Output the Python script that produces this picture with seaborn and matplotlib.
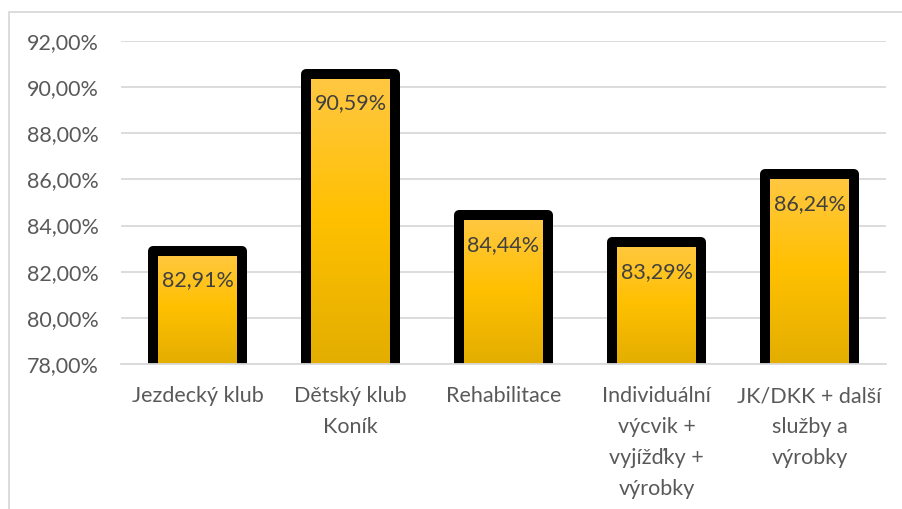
import numpy as np
import pandas as pd
import matplotlib
matplotlib.use("Agg")
import matplotlib.pyplot as plt
from matplotlib.colors import LinearSegmentedColormap
from matplotlib.patches import Rectangle
import seaborn as sns

# Satisfaction per service (percent)
categories = [
    "Jezdecký klub",
    "Dětský klub\nKoník",
    "Rehabilitace",
    "Individuální\nvýcvik +\nvyjížďky +\nvýrobky",
    "JK/DKK + další\nslužby a\nvýrobky",
]
values = [82.91, 90.59, 84.44, 83.29, 86.24]
value_labels = ["82,91%", "90,59%", "84,44%", "83,29%", "86,24%"]
y_ticks = [78, 80, 82, 84, 86, 88, 90, 92]
y_tick_labels = ["78,00%", "80,00%", "82,00%", "84,00%", "86,00%", "88,00%", "90,00%", "92,00%"]

sns.set_theme(style="white")
plt.rcParams["font.family"] = ["Lato", "DejaVu Sans"]

df = pd.DataFrame({"kategorie": categories, "hodnota": values})

fig = plt.figure(figsize=(9.02, 5.09), dpi=100)
ax = fig.add_axes([121 / 902, 145 / 509, 765 / 902, 323 / 509])

sns.barplot(data=df, x="kategorie", y="hodnota", ax=ax, width=0.58,
            color="#FFC000", edgecolor="black", linewidth=7.2, zorder=3)

# Vertical gold gradient inside each bar
gold = LinearSegmentedColormap.from_list("gold", ["#E3AE00", "#FFC000", "#FFC845"])
grad = np.linspace(0, 1, 256).reshape(-1, 1)
for patch in ax.patches:
    x0 = patch.get_x()
    w = patch.get_width()
    top = patch.get_y() + patch.get_height()
    ax.imshow(grad, cmap=gold, origin="lower", aspect="auto",
              extent=(x0, x0 + w, 78, top), zorder=2, interpolation="bilinear")
    patch.set_facecolor("none")
    patch.set_joinstyle("round")
ax.set_xlim(-0.5, len(categories) - 0.5)
ax.set_ylim(78, 92)

# Value labels just under the top of each bar
for patch, lab in zip(ax.patches, value_labels):
    cx = patch.get_x() + patch.get_width() / 2
    top = patch.get_y() + patch.get_height()
    ax.annotate(lab, (cx, top), xytext=(0, -21.5), textcoords="offset points",
                ha="center", va="center", fontsize=15.5, color="#404040", zorder=5)

ax.set_yticks(y_ticks)
ax.set_yticklabels(y_tick_labels)
ax.tick_params(axis="both", length=0, labelsize=15.5, labelcolor="#595959")
ax.tick_params(axis="y", pad=16)
ax.tick_params(axis="x", pad=16)
for t in ax.get_xticklabels():
    t.set_linespacing(1.68)
    t.set_verticalalignment("top")

ax.grid(axis="y", color="#D9D9D9", linewidth=1.3, zorder=0)
ax.set_axisbelow(True)
for side in ["left", "right", "top"]:
    ax.spines[side].set_visible(False)
ax.spines["bottom"].set_color("#D9D9D9")
ax.spines["bottom"].set_linewidth(1.3)
ax.spines["bottom"].set_zorder(4)
ax.set_xlabel("")
ax.set_ylabel("")

# Chart frame
fig.patches.append(Rectangle((9 / 902, -0.1), 1.2, 1.1 - 12 / 509,
                             transform=fig.transFigure, fill=False,
                             edgecolor="#D9D9D9", linewidth=1.3))

fig.savefig("out.png", dpi=100)
